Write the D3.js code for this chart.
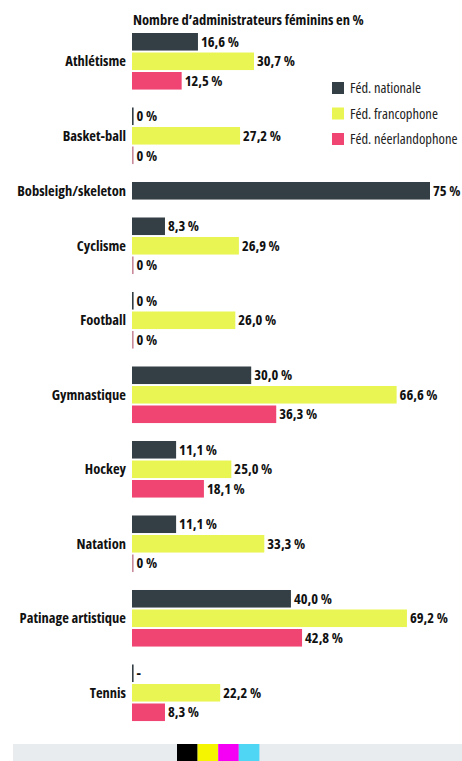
<!DOCTYPE html>
<html>
<head>
<meta charset="utf-8">
<script src="https://cdn.jsdelivr.net/npm/d3@7"></script>
<style>
  body { margin: 0; background: #fff; }
  svg { display: block; font-family: "Open Sans", "Roboto", sans-serif; font-stretch: 85%; }
</style>
</head>
<body>
<svg id="chart" width="462" height="761"></svg>
<script>
/* ---------------------------------------------------
   Data
--------------------------------------------------- */

const sports = ["Athlétisme", "Basket-ball", "Bobsleigh/skeleton", "Cyclisme", "Football",
  "Gymnastique", "Hockey", "Natation", "Patinage artistique", "Tennis"];

// values as printed ; null = no bar, "-" = no data
const nationale = ["16,6", "0", "75", "8,3", "0", "30,0", "11,1", "11,1", "40,0", "-"];
const francophone = ["30,7", "27,2", null, "26,9", "26,0", "66,6", "25,0", "33,3", "69,2", "22,2"];
const neerlandophone = ["12,5", "0", null, "0", "0", "36,3", "18,1", "0", "42,8", "8,3"];

const seriesNames = ["Féd. nationale", "Féd. francophone", "Féd. néerlandophone"];
const seriesColours = ["#343f45", "#e8f553", "#f04572"];

const title = "Nombre d’administrateurs féminins en %";

/* ---------------------------------------------------
   Setup
--------------------------------------------------- */

const svg = d3.select("#chart");
const allSeries = [nationale, francophone, neerlandophone];

const groups = sports.map((name, i) => ({
  name,
  bars: allSeries
    .map((s, k) => ({ label: s[i], k }))
    .filter(d => d.label !== null)
    .map(d => ({ ...d, value: d.label === "-" ? 0 : +d.label.replace(",", ".") }))
}));

// stack rows : one unit per bar, plus a gap between sports
const gapUnits = 0.82;
let cursor = 0;
groups.forEach((g, i) => {
  g.start = cursor;
  g.bars.forEach((b, j) => { b.row = cursor + j; });
  cursor += g.bars.length + (i < groups.length - 1 ? gapUnits : 0);
});

const y = d3.scaleLinear()
  .domain([0, cursor])
  .range([33, 723]);

const barH = (y(1) - y(0)) * 0.9;

const x = d3.scaleLinear()
  .domain([0, 75])
  .range([132, 430]);

/* ---------------------------------------------------
   Title
--------------------------------------------------- */

svg.append("text")
  .attr("x", 133)
  .attr("y", 25)
  .attr("font-size", "14.5px")
  .attr("font-weight", "bold")
  .attr("fill", "#111")
  .text(title);

/* ---------------------------------------------------
   Bars
--------------------------------------------------- */

const g = svg.append("g")
  .selectAll("g")
  .data(groups)
  .join("g");

g.append("text")
  .attr("x", 126)
  .attr("y", d => (y(d.start) + y(d.start + d.bars.length) - (y(1) - y(0)) + barH) / 2)
  .attr("dy", "0.35em")
  .attr("text-anchor", "end")
  .attr("font-size", "14.5px")
  .attr("font-weight", "bold")
  .attr("fill", "#111")
  .text(d => d.name);

g.selectAll("rect")
  .data(d => d.bars)
  .join("rect")
  .attr("x", x(0))
  .attr("y", d => y(d.row))
  .attr("width", d => Math.max(x(d.value) - x(0), 1.6))
  .attr("height", barH)
  .attr("fill", d => d.value === 0 && d.k === 0 ? "#343f45" : d.value === 0 ? "#c98a9a" : seriesColours[d.k]);

g.selectAll("text.val")
  .data(d => d.bars)
  .join("text")
  .attr("class", "val")
  .attr("x", d => Math.max(x(d.value), x(0) + 1.6) + 3)
  .attr("y", d => y(d.row) + barH / 2)
  .attr("dy", "0.36em")
  .attr("font-size", "14.5px")
  .attr("font-weight", "bold")
  .attr("fill", "#111")
  .text(d => d.label === "-" ? "-" : d.label + " %");

/* ---------------------------------------------------
   Legend
--------------------------------------------------- */

const legend = svg.append("g")
  .selectAll("g")
  .data(seriesNames)
  .join("g")
  .attr("transform", (d, i) => `translate(332, ${82 + i * 25.5})`);

legend.append("rect")
  .attr("width", 12)
  .attr("height", 12)
  .attr("fill", (d, i) => seriesColours[i]);

legend.append("text")
  .attr("x", 18)
  .attr("y", 6)
  .attr("dy", "0.36em")
  .attr("font-size", "14.5px")
  .attr("fill", "#222")
  .text(d => d);

/* ---------------------------------------------------
   Print strip at the bottom
--------------------------------------------------- */

const strip = svg.append("g");

strip.append("rect")
  .attr("x", 13)
  .attr("y", 744)
  .attr("width", 449)
  .attr("height", 17)
  .attr("fill", "#e9ecee");

strip.selectAll("rect.ink")
  .data(["#000000", "#f5f500", "#f500f5", "#4fd6f5"])
  .join("rect")
  .attr("class", "ink")
  .attr("x", (d, i) => 177 + i * 20.6)
  .attr("y", 744)
  .attr("width", 20.6)
  .attr("height", 17)
  .attr("fill", d => d);
</script>
</body>
</html>
